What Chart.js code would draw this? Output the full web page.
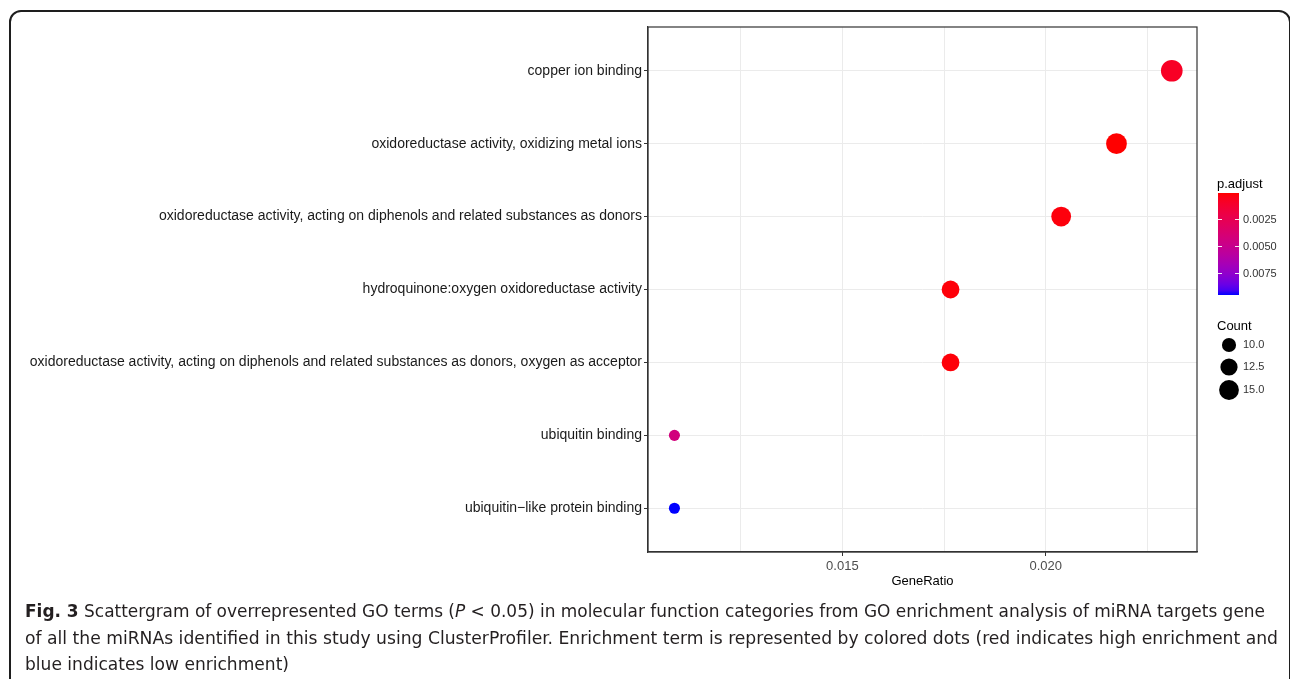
<!DOCTYPE html>
<html>
<head>
<meta charset="utf-8">
<script src="https://cdn.jsdelivr.net/npm/chart.js@4.4.0/dist/chart.umd.min.js"></script>
<style>
  html, body { margin: 0; padding: 0; background: #fff; }
  body { width: 1290px; height: 679px; position: relative; overflow: hidden; }
  .frame {
    position: absolute; left: 9px; top: 10px; width: 1282px; height: 720px;
    border: 2px solid #1e1e1e; border-radius: 12px; box-sizing: border-box;
  }
  #wrap { position: absolute; left: 0; top: 0; width: 1290px; height: 600px; }
  .caption {
    position: absolute; left: 25px; top: 598px;
    font-family: "DejaVu Sans Condensed", "Liberation Sans Narrow", "Liberation Sans", sans-serif;
    font-size: 18px; line-height: 26.5px; color: #231f20;
  }
  .caption span { display: block; white-space: nowrap; width: max-content; transform-origin: 0 0; }
</style>
</head>
<body>
<div class="frame"></div>
<div id="wrap"><canvas id="myChart" width="1290" height="600"></canvas></div>
<div class="caption" id="caption">
  <span data-w="1240"><b>Fig. 3</b> Scattergram of overrepresented GO terms (<i>P</i> &lt; 0.05) in molecular function categories from GO enrichment analysis of miRNA targets gene</span>
  <span data-w="1253">of all the miRNAs identified in this study using ClusterProfiler. Enrichment term is represented by colored dots (red indicates high enrichment and</span>
  <span data-w="264">blue indicates low enrichment)</span>
</div>
<script>
// DATA
const terms = [
  "copper ion binding",
  "oxidoreductase activity, oxidizing metal ions",
  "oxidoreductase activity, acting on diphenols and related substances as donors",
  "hydroquinone:oxygen oxidoreductase activity",
  "oxidoreductase activity, acting on diphenols and related substances as donors, oxygen as acceptor",
  "ubiquitin binding",
  "ubiquitin\u2212like protein binding",
];
const geneRatio = [0.0231, 0.02174, 0.02038, 0.01766, 0.01766, 0.01087, 0.01087];
const counts = [17, 16, 15, 13, 13, 8, 8];
const pAdjust = [0.0009, 0.00012, 0.0003, 0.00025, 0.00025, 0.0043, 0.0095];
const xTicks = [0.0125, 0.015, 0.0175, 0.02, 0.0225];
const xLabelTicks = [0.015, 0.02];
const pTicks = [0.0025, 0.005, 0.0075];
const countTicks = [10, 12.5, 15];

const FONT = "'Liberation Sans', Arial, Helvetica, sans-serif";
Chart.defaults.font.family = FONT;

// colour scale red -> blue, interpolated in Lab like ggplot
function toLab(hex) {
  let c = [1, 3, 5].map((i) => parseInt(hex.substr(i, 2), 16) / 255);
  c = c.map((v) => (v > 0.04045 ? Math.pow((v + 0.055) / 1.055, 2.4) : v / 12.92));
  const X = (c[0] * 0.4124 + c[1] * 0.3576 + c[2] * 0.1805) / 0.95047;
  const Y = c[0] * 0.2126 + c[1] * 0.7152 + c[2] * 0.0722;
  const Z = (c[0] * 0.0193 + c[1] * 0.1192 + c[2] * 0.9505) / 1.08883;
  const f = (t) => (t > 0.008856 ? Math.cbrt(t) : 7.787 * t + 16 / 116);
  return [116 * f(Y) - 16, 500 * (f(X) - f(Y)), 200 * (f(Y) - f(Z))];
}
function fromLab(L, a, b) {
  const fy = (L + 16) / 116, fx = fy + a / 500, fz = fy - b / 200;
  const g = (t) => (t * t * t > 0.008856 ? t * t * t : (t - 16 / 116) / 7.787);
  const X = g(fx) * 0.95047, Y = g(fy), Z = g(fz) * 1.08883;
  let r = X * 3.2406 + Y * -1.5372 + Z * -0.4986;
  let gg = X * -0.9689 + Y * 1.8758 + Z * 0.0415;
  let bb = X * 0.0557 + Y * -0.204 + Z * 1.057;
  const s = (v) => {
    v = v > 0.0031308 ? 1.055 * Math.pow(v, 1 / 2.4) - 0.055 : 12.92 * v;
    return Math.round(Math.max(0, Math.min(1, v)) * 255);
  };
  return "rgb(" + s(r) + "," + s(gg) + "," + s(bb) + ")";
}
const labLow = toLab("#FF0000");
const labHigh = toLab("#0000FF");
const pMin = 0.00012;
const pMax = 0.0095;
function colorOf(p) {
  const t = Math.max(0, Math.min(1, (p - pMin) / (pMax - pMin)));
  return fromLab(
    labLow[0] + (labHigh[0] - labLow[0]) * t,
    labLow[1] + (labHigh[1] - labLow[1]) * t,
    labLow[2] + (labHigh[2] - labLow[2]) * t
  );
}
function sizeOf(c) {
  return Math.sqrt(50 + 9.6 * (c - 10));
}

// panel border + legends
const extras = {
  id: "extras",
  afterDraw(chart) {
    const ctx = chart.ctx;
    const a = chart.chartArea;
    ctx.save();
    ctx.strokeStyle = "#333333";
    ctx.lineWidth = 1.2;
    ctx.strokeRect(a.left, a.top, a.right - a.left, a.bottom - a.top);

    // p.adjust colour bar
    const bx = a.right + 21, by = 193, bw = 21, bh = 102;
    ctx.fillStyle = "#000";
    ctx.font = "13px " + FONT;
    ctx.textBaseline = "middle";
    ctx.textAlign = "left";
    ctx.fillText("p.adjust", a.right + 20, 184);
    const grad = ctx.createLinearGradient(0, by, 0, by + bh);
    for (let i = 0; i <= 20; i++) {
      grad.addColorStop(i / 20, colorOf(pMin + (pMax - pMin) * (i / 20)));
    }
    ctx.fillStyle = grad;
    ctx.fillRect(bx, by, bw, bh);
    ctx.font = "11px " + FONT;
    pTicks.forEach((p) => {
      const y = Math.round(by + ((p - pMin) / (pMax - pMin)) * bh) + 0.5;
      ctx.strokeStyle = "rgba(255,255,255,0.9)";
      ctx.lineWidth = 1;
      ctx.beginPath();
      ctx.moveTo(bx, y); ctx.lineTo(bx + 4, y);
      ctx.moveTo(bx + bw - 4, y); ctx.lineTo(bx + bw, y);
      ctx.stroke();
      ctx.fillStyle = "#333";
      ctx.fillText(p.toFixed(4), bx + bw + 4, y);
    });

    // Count legend
    ctx.fillStyle = "#000";
    ctx.font = "13px " + FONT;
    ctx.fillText("Count", a.right + 20, 326);
    const ys = [345, 367, 390];
    ctx.font = "11px " + FONT;
    countTicks.forEach((c, i) => {
      ctx.fillStyle = "#000";
      ctx.beginPath();
      ctx.arc(a.right + 32, ys[i], sizeOf(c), 0, Math.PI * 2);
      ctx.fill();
      ctx.fillStyle = "#333";
      ctx.fillText(c.toFixed(1), bx + bw + 4, ys[i]);
    });
    ctx.restore();
  },
};

const ctx = document.getElementById("myChart");

new Chart(ctx, {
  type: "scatter",
  data: {
    datasets: [
      {
        data: geneRatio.map((g, i) => ({ x: g, y: terms.length - i })),
        pointRadius: (c) => sizeOf(counts[c.dataIndex]),
        pointHoverRadius: (c) => sizeOf(counts[c.dataIndex]),
        backgroundColor: (c) => colorOf(pAdjust[c.dataIndex]),
        borderWidth: 0,
      },
    ],
  },
  options: {
    responsive: false,
    animation: false,
    events: [],
    layout: { padding: { top: 27, right: 93, left: 0, bottom: 0 } },
    plugins: { legend: { display: false }, tooltip: { enabled: false } },
    scales: {
      x: {
        type: "linear",
        min: 0.01022,
        max: 0.02372,
        afterBuildTicks: (s) => { s.ticks = xTicks.map((v) => ({ value: v })); },
        afterFit: (s) => { s.height = 48; },
        ticks: {
          color: "#4d4d4d",
          font: { size: 13 },
          padding: 3,
          maxRotation: 0,
          autoSkip: false,
          callback: (v) => (xLabelTicks.some((t) => Math.abs(t - v) < 1e-9) ? v.toFixed(3) : ""),
        },
        grid: {
          color: "#ebebeb",
          lineWidth: 1,
          tickLength: 4,
          tickColor: (c) => (c.tick && xLabelTicks.some((t) => Math.abs(t - c.tick.value) < 1e-9) ? "#333" : "rgba(0,0,0,0)"),
        },
        border: { color: "#333", width: 1.2 },
        title: {
          display: true,
          text: "GeneRatio",
          color: "#000",
          font: { size: 13 },
          padding: { top: 0, bottom: 11 },
        },
      },
      y: {
        type: "linear",
        min: 0.4,
        max: 7.6,
        afterBuildTicks: (s) => { s.ticks = terms.map((t, i) => ({ value: i + 1 })); },
        afterFit: (s) => { s.width = 648; },
        ticks: {
          color: "#1a1a1a",
          font: { size: 14 },
          padding: 2,
          autoSkip: false,
          callback: (v) => terms[terms.length - v] || "",
        },
        grid: { color: "#ebebeb", lineWidth: 1, tickLength: 4, tickColor: "#333" },
        border: { color: "#333", width: 1.2 },
      },
    },
  },
  plugins: [extras],
});

// fit each caption line to the width it has in the figure
document.querySelectorAll("#caption span").forEach((line) => {
  const natural = line.getBoundingClientRect().width;
  line.style.transform = "scaleX(" + (Number(line.dataset.w) / natural).toFixed(4) + ")";
});
</script>
</body>
</html>
